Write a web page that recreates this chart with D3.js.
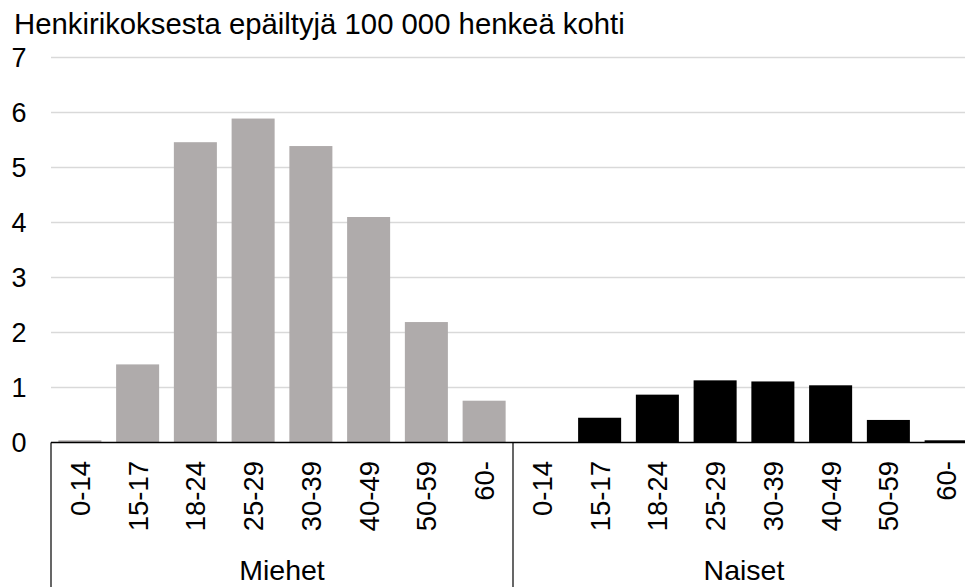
<!DOCTYPE html>
<html><head><meta charset="utf-8">
<script src="https://cdn.jsdelivr.net/npm/d3@7"></script>
<style>body{margin:0;background:#fff}svg{display:block}text{font-family:"Liberation Sans",Arial,sans-serif;fill:#000}</style>
</head><body><svg id="c" width="965" height="587"></svg>
<script>
const title = "Henkirikoksesta epäiltyjä 100 000 henkeä kohti";
const groups = ["Miehet", "Naiset"];
const ageGroups = ["0-14","15-17","18-24","25-29","30-39","40-49","50-59","60-"];
const miehet = [0.04, 1.42, 5.46, 5.89, 5.39, 4.10, 2.19, 0.76];
const naiset = [0.0, 0.45, 0.87, 1.13, 1.11, 1.04, 0.41, 0.04];
const yTicks = [0,1,2,3,4,5,6,7];
const colors = {Miehet:"#afabab", Naiset:"#000000"};

const data = [];
groups.forEach((g, gi) => {
  const vals = gi === 0 ? miehet : naiset;
  ageGroups.forEach((a, i) => data.push({key: g + "|" + a, group: g, age: a, value: vals[i]}));
});

const svg = d3.select("#c");
const pLeft = 51, pRight = 975, pTop = 57.5, base = 442.5;
const x = d3.scaleBand().domain(data.map(d => d.key)).range([pLeft, pRight]).paddingInner(0.255).paddingOuter(0.1275);
const y = d3.scaleLinear().domain([0, 7]).range([base, pTop]);

// title
svg.append("text").attr("x", 14).attr("y", 34).attr("font-size", 29.3).text(title);

// gridlines
svg.append("g").selectAll("line").data(yTicks.filter(t => t > 0)).join("line")
  .attr("x1", pLeft).attr("x2", 965).attr("y1", d => y(d)).attr("y2", d => y(d))
  .attr("stroke", "#d9d9d9").attr("stroke-width", 1.3);

// y labels
const yAxis = d3.axisLeft(y).tickValues(yTicks).tickSize(0).tickPadding(0).tickFormat(d3.format("d"));
const ya = svg.append("g").attr("transform", `translate(${26.5},0)`).call(yAxis);
ya.select(".domain").remove();
ya.selectAll("text").attr("font-size", 27).attr("font-family", '"Liberation Sans",Arial,sans-serif').attr("fill", "#000").attr("dy", "0.35em");

// bars
svg.append("g").selectAll("rect").data(data).join("rect")
  .attr("x", d => x(d.key)).attr("width", x.bandwidth())
  .attr("y", d => y(d.value)).attr("height", d => base - y(d.value))
  .attr("fill", d => colors[d.group]);

// baseline
svg.append("line").attr("x1", pLeft).attr("x2", 965).attr("y1", base).attr("y2", base)
  .attr("stroke", "#000").attr("stroke-width", 1.6);

// category labels via axis
const xAxis = d3.axisBottom(x).tickSize(0).tickPadding(0).tickFormat(k => k.split("|")[1]);
const xa = svg.append("g").attr("transform", `translate(0,${base})`).call(xAxis);
xa.select(".domain").remove();
xa.selectAll(".tick").attr("transform", d => `translate(${x(d) + x.bandwidth()/2},0)`);
xa.selectAll("text").attr("font-size", 27.5).attr("font-family", '"Liberation Sans",Arial,sans-serif').attr("fill", "#000")
  .attr("text-anchor", "end").attr("transform", "rotate(-90)")
  .attr("x", -18.5).attr("y", 0).attr("dy", "0.36em");

// group separators
const groupW = (pRight - pLeft) / groups.length;
const seps = d3.range(groups.length + 1).map(i => pLeft + i * groupW);
svg.append("g").selectAll("line").data(seps).join("line")
  .attr("x1", d => d).attr("x2", d => d).attr("y1", base).attr("y2", 587)
  .attr("stroke", "#000").attr("stroke-width", 1.2);

// group labels
svg.append("g").selectAll("text").data(groups).join("text")
  .attr("x", (d, i) => pLeft + (i + 0.5) * groupW).attr("y", 580)
  .attr("text-anchor", "middle").attr("font-size", 28.5).text(d => d);
</script></body></html>
